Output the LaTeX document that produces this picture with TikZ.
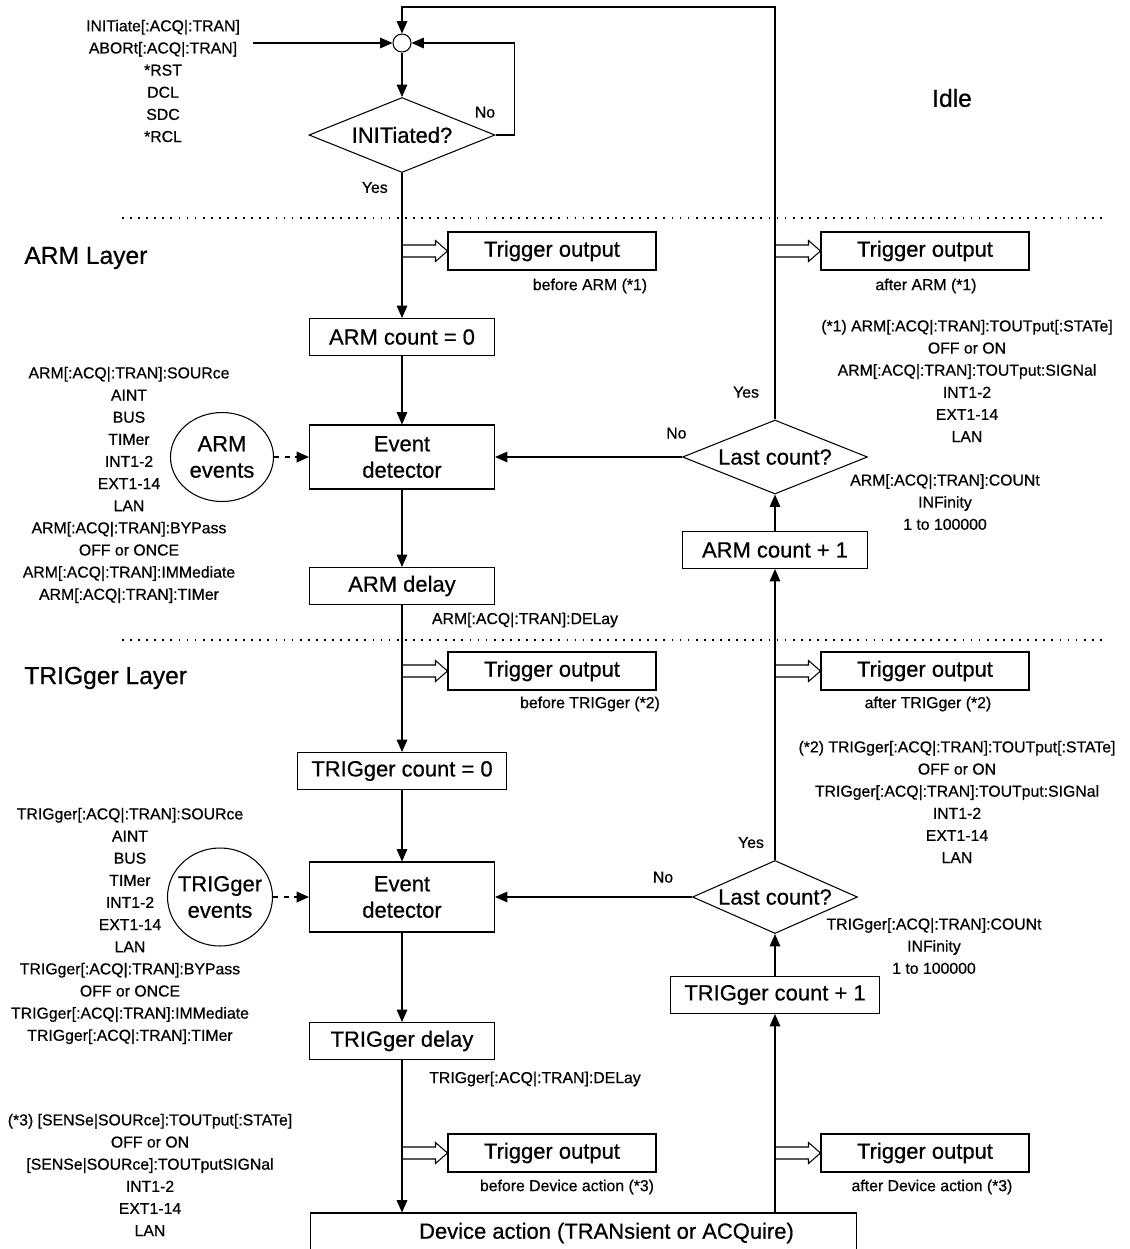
\documentclass[tikz,border=0pt]{standalone}
\usepackage{fontspec}
\setmainfont{Liberation Sans}[FakeBold=0.6]
\usetikzlibrary{shapes.geometric,arrows.meta,calc}

\begin{document}
\begin{tikzpicture}[
			     x=0.02cm, y=-0.02cm,
			     >={Triangle[length=7pt,width=6pt]},
			     line width=0.6pt,
			     big/.style={font=\fontsize{12.5}{15}\selectfont},
			     small/.style={font=\fontsize{9}{12.6}\selectfont, align=center},
			     layer/.style={font=\fontsize{14}{16}\selectfont},
			     box/.style={draw, rectangle, big, minimum width=3.7cm, minimum height=0.74cm, inner xsep=8pt, inner ysep=0pt},
			     tout/.style={box, minimum width=4.16cm, minimum height=0.76cm},
			     decision/.style={draw, diamond, big, aspect=2.3, inner sep=0pt},
			     events/.style={draw, ellipse, big, align=center, inner xsep=-3pt, inner ysep=0pt},
			     evline/.style={->, line width=1pt, dash pattern=on 3pt off 3pt},
			     dbl/.style={to path={($(\tikztostart)+(0,-6)$) -- ($(\tikztotarget)+(-12,-6)$) -- ($(\tikztotarget)+(-12,-10.5)$) -- (\tikztotarget) -- ($(\tikztotarget)+(-12,10.5)$) -- ($(\tikztotarget)+(-12,6)$) -- ($(\tikztostart)+(0,6)$)}},
			     sep/.style={line width=1pt, dash pattern=on 1pt off 3.6pt}
			     ]
\useasboundingbox (0,0) rectangle (1130,1249);

% idle
\node[draw, circle, minimum size=0.36cm, inner sep=0pt] (junc) at (402,43) {};
\node[decision, minimum width=3.72cm, minimum height=1.5cm] (init) at (402,135) {INITiated?};
\node[small] (cmds) at (163,81) {INITiate[:ACQ|:TRAN]\\ABORt[:ACQ|:TRAN]\\*RST\\DCL\\SDC\\*RCL};
\node[layer] (idle) at (952,98) {Idle};
\coordinate (inp) at (253,43);
\coordinate (top) at (402,7);
\draw[sep] (122,218) -- (1103,218);
\draw[sep] (122,640) -- (1103,640);

% ARM layer
\node[layer, anchor=west] (armlayer) at (18,258) {ARM Layer};
\node[tout] (toa1) at (552,251) {Trigger output};
\node[small] (toa1txt) at (590,286) {before ARM (*1)};
\node[box] (armzero) at (402,337) {ARM count = 0};
\node[box, minimum height=1.28cm, align=center] (armdet) at (402,457) {Event\\detector};
\node[events, minimum width=2.06cm, minimum height=1.78cm] (armev) at (222,457) {ARM\\events};
\node[box] (armdel) at (402,586) {ARM delay};
\node[small] (armdeltxt) at (525,620) {ARM[:ACQ|:TRAN]:DELay};
\node[small] (armsrc) at (129,485) {ARM[:ACQ|:TRAN]:SOURce\\AINT\\BUS\\TIMer\\INT1-2\\EXT1-14\\LAN\\ARM[:ACQ|:TRAN]:BYPass\\OFF or ONCE\\ARM[:ACQ|:TRAN]:IMMediate\\ARM[:ACQ|:TRAN]:TIMer};
\node[tout] (toa2) at (925,251) {Trigger output};
\node[small] (toa2txt) at (926,286) {after ARM (*1)};
\node[small] (armtout) at (967,381) {(*1) ARM[:ACQ|:TRAN]:TOUTput[:STATe]\\OFF or ON\\ARM[:ACQ|:TRAN]:TOUTput:SIGNal\\INT1-2\\EXT1-14\\LAN};
\node[decision, minimum width=3.7cm, minimum height=1.48cm] (armlast) at (775,457) {Last count?};
\node[small] (armcnt) at (945,502) {ARM[:ACQ|:TRAN]:COUNt\\INFinity\\1 to 100000};
\node[box] (armplus) at (775,550) {ARM count + 1};

% TRIGger layer
\node[layer, anchor=west] (triglayer) at (18,678) {TRIGger Layer};
\node[tout] (tot1) at (552,671) {Trigger output};
\node[small] (tot1txt) at (590,704) {before TRIGger (*2)};
\node[box] (trigzero) at (402,771) {TRIGger count = 0};
\node[box, minimum height=1.4cm, align=center] (trigdet) at (402,897) {Event\\detector};
\node[events, minimum width=2.1cm, minimum height=1.96cm] (trigev) at (220,897) {TRIGger\\events};
\node[box] (trigdel) at (402,1041) {TRIGger delay};
\node[small] (trigdeltxt) at (535,1079) {TRIGger[:ACQ|:TRAN]:DELay};
\node[small] (trigsrc) at (130,926) {TRIGger[:ACQ|:TRAN]:SOURce\\AINT\\BUS\\TIMer\\INT1-2\\EXT1-14\\LAN\\TRIGger[:ACQ|:TRAN]:BYPass\\OFF or ONCE\\TRIGger[:ACQ|:TRAN]:IMMediate\\TRIGger[:ACQ|:TRAN]:TIMer};
\node[tout] (tot2) at (925,671) {Trigger output};
\node[small] (tot2txt) at (928,704) {after TRIGger (*2)};
\node[small] (trigtout) at (957,802) {(*2) TRIGger[:ACQ|:TRAN]:TOUTput[:STATe]\\OFF or ON\\TRIGger[:ACQ|:TRAN]:TOUTput:SIGNal\\INT1-2\\EXT1-14\\LAN};
\node[decision, minimum width=3.3cm, minimum height=1.46cm] (triglast) at (775,897) {Last count?};
\node[small] (trigcnt) at (934,946) {TRIGger[:ACQ|:TRAN]:COUNt\\INFinity\\1 to 100000};
\node[box, minimum width=4.08cm] (trigplus) at (775,995) {TRIGger count + 1};

% device action
\node[tout] (tod1) at (552,1153) {Trigger output};
\node[small] (tod1txt) at (567,1187) {before Device action (*3)};
\node[tout] (tod2) at (925,1153) {Trigger output};
\node[small] (tod2txt) at (932,1187) {after Device action (*3)};
\node[small] (devtout) at (150,1175) {(*3) [SENSe|SOURce]:TOUTput[:STATe]\\OFF or ON\\{}[SENSe|SOURce]:TOUTputSIGNal\\INT1-2\\EXT1-14\\LAN};
\node[box, minimum width=10.94cm, minimum height=0.8cm] (dev) at (583.5,1233) {\hspace*{0.92cm}Device action (TRANsient or ACQuire)};

\coordinate (a1) at (armzero |- toa1);
\coordinate (a2) at (armlast |- toa2);
\coordinate (t1) at (trigzero |- tot1);
\coordinate (t2) at (triglast |- tot2);
\coordinate (d1) at (trigdel |- tod1);
\coordinate (d2) at (trigplus |- tod2);
\coordinate (devin) at (trigdel |- dev.north);
\coordinate (devout) at (trigplus |- dev.north);
\coordinate (corner) at (armlast |- top);

% flow
\path (inp) edge[->] (junc);
\path (junc) edge[->] (init);
\draw[->] (init.east) -- node[small, pos=0, anchor=south east, xshift=3.4pt, yshift=6.2pt] {No} ++(19,0) |- (junc);
\path (init) edge[->] node[small, pos=0.1, left=4.5pt] {Yes} (armzero);
\path (armzero) edge[->] (armdet);
\path (armev) edge[evline] (armdet);
\path (armdet) edge[->] (armdel);
\path (armdel) edge[->] (trigzero);
\path (trigzero) edge[->] (trigdet);
\path (trigev) edge[evline] (trigdet);
\path (trigdet) edge[->] (trigdel);
\path (trigdel) edge[->] (devin);
\path (devout) edge[->] (trigplus);
\path (trigplus) edge[->] (triglast);
\path (triglast) edge[->] node[small, pos=0.147, above=4.5pt] {No} (trigdet);
\path (triglast) edge[->] node[small, pos=0.06, left=2.7pt] {Yes} (armplus);
\path (armplus) edge[->] (armlast);
\path (armlast) edge[->] node[small, pos=0.03, above=6.8pt] {No} (armdet);
\draw[->] (armlast) -- node[small, pos=0.066, left=5.5pt] {Yes} (corner) -- (top) -- (junc);

% trigger outputs
\draw[dbl] (a1) to (toa1.west);
\draw[dbl] (a2) to (toa2.west);
\draw[dbl] (t1) to (tot1.west);
\draw[dbl] (t2) to (tot2.west);
\draw[dbl] (d1) to (tod1.west);
\draw[dbl] (d2) to (tod2.west);
\end{tikzpicture}
\end{document}
